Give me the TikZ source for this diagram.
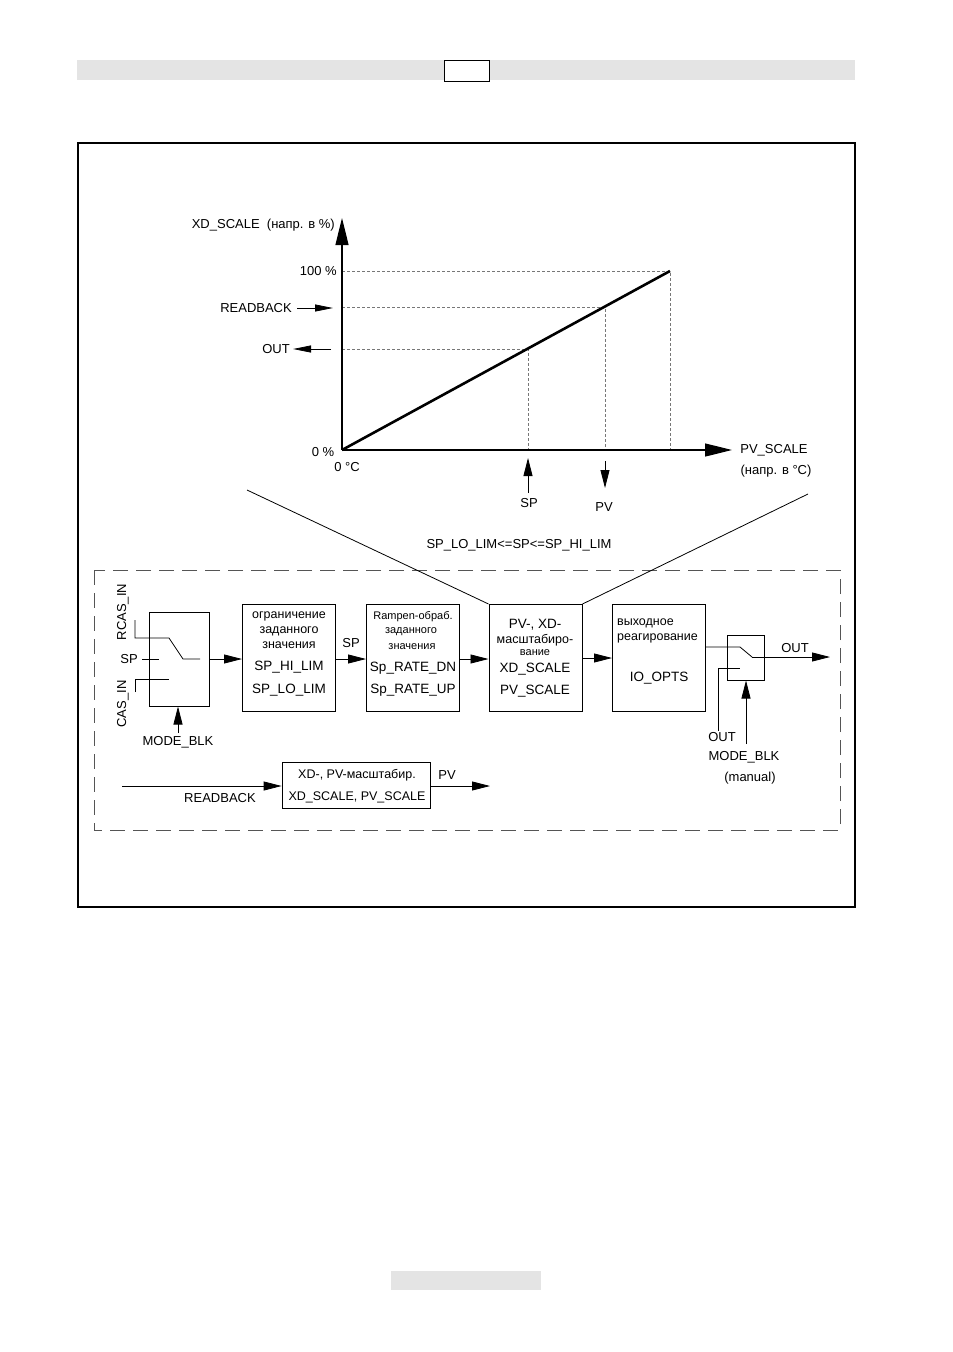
\documentclass[tikz,border=0pt]{standalone}
\usepackage{fontspec}
\setmainfont{Liberation Sans}
\usepackage{tikz}
\usetikzlibrary{arrows.meta}
\definecolor{barGray}{HTML}{E4E4E4}
\definecolor{guideGray}{HTML}{777777}
\definecolor{frameGray}{HTML}{555555}

\begin{document}
\begin{tikzpicture}[x=1pt, y=-1pt,
    lbl/.style={font=\fontsize{13}{15}\selectfont, inner sep=0pt},
    big/.style={font=\fontsize{13.5}{15}\selectfont, inner sep=0pt},
    sml/.style={font=\fontsize{12.5}{14}\selectfont, inner sep=0pt},
    tiny/.style={font=\fontsize{11}{12}\selectfont, inner sep=0pt},
    blk/.style={draw, line width=1pt, inner sep=0pt, minimum width=93pt, minimum height=107pt},
    wire/.style={line width=0.8pt},
    flow/.style={line width=0.8pt, -{Triangle[length=18pt,width=9pt]}},
    slim/.style={line width=0.8pt, -{Triangle[length=18pt,width=7pt]}},
    axis/.style={line width=1.2pt, -{Triangle[length=27pt,width=13pt]}},
    guide/.style={guideGray, line width=0.8pt, dash pattern=on 3pt off 2pt}]

    \useasboundingbox (0,0) rectangle (953,1352);
    % page bars and frame
    \fill[barGray] (77,60) rectangle (855,80);
    \node[draw, line width=0.9pt, fill=white, inner sep=0pt, minimum width=45pt, minimum height=21pt] (pgbox) at (466.5,70.5) {};
    \fill[barGray] (391,1271) rectangle (541,1290);
    \draw[line width=1.2pt] (78,143) rectangle (855,907);

    % characteristic
    \coordinate (O) at (342,450);
    \coordinate (ytip) at (342,218);
    \coordinate (xtip) at (732,450);
    \coordinate (top) at (670,271);
    \draw[guide] (342,271) -| (670,450);
    \draw[guide] (342,307) -| (605,450);
    \draw[guide] (342,349) -| (528,450);
    \draw[axis] (O) -- (ytip);
    \draw[axis] (O) -- (xtip);
    \draw[line width=2.6pt] (O) -- (top);

    \node[lbl, anchor=east] (yname) at (335,225) {XD\_SCALE\ \ (напр. в \%)};
    \node[lbl, anchor=east] (p100) at (337,271) {100 \%};
    \node[lbl, anchor=east] (rbk) at (292,308) {READBACK};
    \node[lbl, anchor=east] (gout) at (290,349) {OUT};
    \node[lbl] (p0) at (323,452) {0 \%};
    \node[lbl] (c0) at (347,467) {0 °C};
    \node[lbl] (xname) at (774,450) {PV\_SCALE};
    \node[lbl] (xunit) at (776,471) {(напр. в °C)};
    \coordinate (rbkEnd) at (333,308);
    \coordinate (goutStart) at (331,349);
    \draw[slim] ([xshift=5pt]rbk.east) -- (rbkEnd);
    \draw[slim] (goutStart) -- ([xshift=3pt]gout.east);

    \node[lbl] (gsp) at (529,503) {SP};
    \node[lbl] (gpv) at (604,507) {PV};
    \coordinate (gspTip) at (528,458);
    \coordinate (gpvTip) at (605,488);
    \draw[flow] (528,493) -- (gspTip);
    \draw[flow] (605,461) -- (gpvTip);

    \node[lbl] (limits) at (519,545) {SP\_LO\_LIM<=SP<=SP\_HI\_LIM};

    % function block
    \draw[frameGray, line width=0.9pt, dash pattern=on 15pt off 8pt] (94,570) rectangle (840,830);

    \node[blk, minimum width=60pt, minimum height=94pt] (sw1) at (179,659) {};
    \node[blk] (b2) at (289,658) {};
    \node[blk] (b3) at (413,658) {};
    \node[blk] (b4) at (535.5,658) {};
    \node[blk] (b5) at (659,658) {};
    \node[blk, minimum width=37pt, minimum height=45pt] (sw2) at (745.5,657.5) {};
    \node[blk, line width=0.8pt, minimum width=148pt, minimum height=46pt] (b6) at (356,785) {};

    % zoom lines
    \coordinate (zl) at (247,490);
    \coordinate (zr) at (808,494);
    \draw[wire] (zl) -- (b4.north west);
    \draw[wire] (zr) -- (b4.north east);

    % inputs switch
    \node[lbl, rotate=90] (rcas) at (123,612) {RCAS\_IN};
    \node[lbl, rotate=90] (cas) at (123,704) {CAS\_IN};
    \node[lbl, anchor=east] (spin) at (138,659) {SP};
    \node[lbl] (mb1) at (178,742) {MODE\_BLK};
    \coordinate (k1a) at (135,620);
    \coordinate (k1b) at (169,638);
    \coordinate (k1c) at (183,659);
    \coordinate (k1d) at (200,659);
    \coordinate (k1e) at (135,692);
    \coordinate (k1f) at (169,679);
    \coordinate (mb1Start) at (178,733);
    \draw[wire] (k1a) |- (k1b) -- (k1c) -- (k1d);
    \draw[wire] ([xshift=4pt]spin.east) -- (159,659);
    \draw[wire] (k1e) |- (k1f);
    \draw[flow] (mb1Start) -- (sw1.south -| mb1Start);

    % block texts
    \node[sml] at (289,616) {ограничение};
    \node[sml] at (289,631) {заданного};
    \node[sml] at (289,645) {значения};
    \node[big] at (289,667) {SP\_HI\_LIM};
    \node[big] at (289,690) {SP\_LO\_LIM};

    \node[tiny] at (413,617) {Rampen-обраб.};
    \node[tiny] at (411,632) {заданного};
    \node[tiny] at (412,647) {значения};
    \node[big] at (413,668) {Sp\_RATE\_DN};
    \node[big] at (413,690) {Sp\_RATE\_UP};

    \node[big] at (535,625) {PV-, XD-};
    \node[sml] at (535,640) {масштабиро-};
    \node[tiny] at (535,653) {вание};
    \node[big] at (535,669) {XD\_SCALE};
    \node[big] at (535,691) {PV\_SCALE};

    \node[sml, anchor=west] at (617,623) {выходное};
    \node[sml, anchor=west] at (617,638) {реагирование};
    \node[big] at (659,678) {IO\_OPTS};

    \node[lbl, font=\fontsize{12.5}{14}\selectfont] at (357,775) {XD-, PV-масштабир.};
    \node[lbl, font=\fontsize{12.5}{14}\selectfont] at (357,797) {XD\_SCALE, PV\_SCALE};

    % signal path
    \draw[flow] (sw1.east) -- (sw1.east -| b2.west);
    \node[lbl] (sp2) at (351,643) {SP};
    \draw[flow] (b2.east |- sw1.east) -- (b3.west |- sw1.east);
    \draw[flow] (b3.east |- sw1.east) -- (b4.west |- sw1.east);
    \draw[flow] (b4.east) -- (b5.west);

    % output switch
    \coordinate (k2a) at (740,647);
    \coordinate (k2b) at (752,657);
    \coordinate (k2c) at (740,668);
    \coordinate (fbout) at (718,731);
    \coordinate (outEnd) at (830,657);
    \draw[wire] (b5.east |- k2a) -- (k2a) -- (k2b);
    \draw[flow] (k2b) -- (outEnd);
    \draw[wire] (fbout) |- (k2c);
    \node[lbl] (oname) at (795,648) {OUT};
    \node[lbl] (ofb) at (722,737) {OUT};
    \node[lbl] (mb2) at (744,757) {MODE\_BLK};
    \node[lbl] (man) at (750,778) {(manual)};
    \coordinate (mb2Start) at (746,744);
    \draw[flow] (mb2Start) -- (sw2.south -| mb2Start);

    % readback path
    \coordinate (rbIn) at (122,786);
    \coordinate (pvOut) at (490,786);
    \draw[flow] (rbIn) -- (rbIn -| b6.west);
    \node[lbl] (rbl) at (220,798) {READBACK};
    \draw[flow] (b6.east |- rbIn) -- (pvOut);
    \node[lbl] (pvl) at (447,775) {PV};
\end{tikzpicture}
\end{document}
